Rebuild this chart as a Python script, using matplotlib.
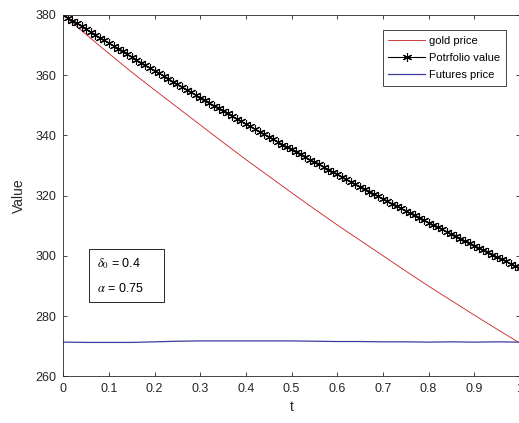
from matplotlib import pyplot as plt
from matplotlib.patches import Rectangle

plt.rcParams['font.family'] = ['Liberation Sans', 'DejaVu Sans']
plt.rcParams['mathtext.fontset'] = 'stix'

# 时间轴
t_gold = [i / 20 for i in range(21)]
t_port = [i / 100 for i in range(101)]

gold_price = [380.0, 373.5, 367.2, 361.0, 355.1, 349.3, 343.5, 337.7, 332.0, 326.5,
              321.0, 315.6, 310.3, 305.2, 300.1, 295.0, 290.0, 285.2, 280.4, 275.7,
              271.1]

portfolio_value = [
    380.0, 379.1, 378.1, 377.2, 376.2, 375.3, 374.3, 373.4, 372.5, 371.6,
    370.6, 369.7, 368.8, 367.9, 366.9, 366.0, 365.1, 364.2, 363.3, 362.4,
    361.5, 360.6, 359.7, 358.8, 357.9, 357.0, 356.1, 355.2, 354.3, 353.4,
    352.5, 351.7, 350.8, 349.9, 349.0, 348.2, 347.3, 346.4, 345.6, 344.7,
    343.8, 343.0, 342.1, 341.3, 340.4, 339.6, 338.7, 337.9, 337.0, 336.2,
    335.4, 334.5, 333.7, 332.9, 332.0, 331.2, 330.4, 329.5, 328.7, 327.9,
    327.1, 326.3, 325.4, 324.6, 323.8, 323.0, 322.2, 321.4, 320.6, 319.8,
    319.0, 318.2, 317.4, 316.6, 315.8, 315.0, 314.2, 313.5, 312.7, 311.9,
    311.1, 310.3, 309.6, 308.8, 308.0, 307.3, 306.5, 305.7, 305.0, 304.2,
    303.4, 302.7, 301.9, 301.2, 300.4, 299.7, 298.9, 298.2, 297.4, 296.7,
    295.9]

futures_price = [271.4, 271.3, 271.3, 271.3, 271.5, 271.7, 271.8, 271.8, 271.8, 271.8,
                 271.8, 271.7, 271.6, 271.6, 271.5, 271.5, 271.4, 271.5, 271.4, 271.5,
                 271.4]

x_ticks = [i / 10 for i in range(11)]
x_tick_labels = ['0', '0.1', '0.2', '0.3', '0.4', '0.5', '0.6', '0.7', '0.8', '0.9', '1']
y_ticks = [260, 280, 300, 320, 340, 360, 380]

fig = plt.figure(figsize=(5.19, 4.23), dpi=100)
ax = fig.add_axes([0.122, 0.110, 0.8796, 0.8546])

ax.plot(t_gold, gold_price, color='#c81e1e', linewidth=0.6, label='gold price')
ax.plot(t_port, portfolio_value, color='black', linewidth=0.8, marker=(6, 2, 0),
        markersize=6.5, markeredgewidth=0.8, label='Potrfolio value')
ax.plot(t_gold, futures_price, color='#3c3ca0', linewidth=0.9, label='Futures price')

ax.set_xlim(0, 1)
ax.set_ylim(260, 380)
ax.set_xticks(x_ticks)
ax.set_xticklabels(x_tick_labels)
ax.set_yticks(y_ticks)
ax.tick_params(direction='in', length=3, width=0.6, top=True, right=True,
               labelsize=9, colors='#262626', pad=5)
for s in ax.spines.values():
    s.set_color('#262626')
    s.set_linewidth(0.6)

ax.set_xlabel('t', fontsize=10, color='#262626', labelpad=3)
ax.set_ylabel('Value', fontsize=10, color='#262626', labelpad=7)

# 图例
leg = ax.legend(loc='upper right', bbox_to_anchor=(0.97, 0.9585), fontsize=8,
                fancybox=False, framealpha=1, edgecolor='#262626',
                handlelength=3.3, handletextpad=0.4, labelspacing=0.65,
                borderpad=0.5, borderaxespad=0)
leg.get_frame().set_linewidth(0.6)

# 参数说明框
ax.add_patch(Rectangle((0.057, 0.207), 0.164, 0.146, transform=ax.transAxes,
                       facecolor='white', edgecolor='#262626', linewidth=0.7, zorder=5))
ax.text(0.073, 0.313, r'$\delta_0$ = 0.4', transform=ax.transAxes, fontsize=9,
        va='center', zorder=6)
ax.text(0.073, 0.244, r'$\alpha$ = 0.75', transform=ax.transAxes, fontsize=9,
        va='center', zorder=6)

plt.savefig('out.png', dpi=100)
